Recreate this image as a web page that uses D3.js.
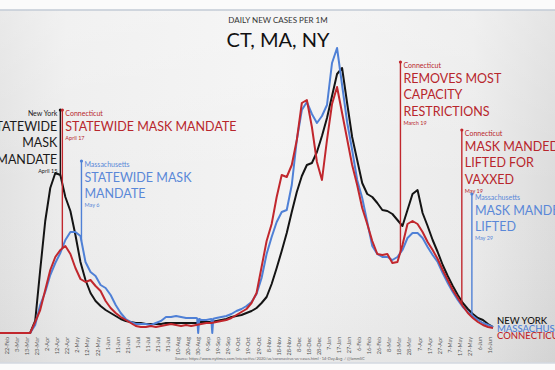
<!DOCTYPE html>
<html><head><meta charset="utf-8">
<script src="https://cdn.jsdelivr.net/npm/d3@7"></script>
<style>html,body{margin:0;padding:0;background:#fff;overflow:hidden}svg{display:block}</style>
</head><body><svg id="c" width="555" height="370"></svg>
<script>
// ---- data ----
const seriesStart = "2020-02-15";
const stepDays = 5;
const nyValues = [0,0,0,0,0,0,0,36,189,336,435,480,474,408,366,294,213,159,120,96,81,69,60,51,42,36,33,30,30,27,27,27,27,30,30,30,30,30,30,30,33,33,33,36,39,42,48,51,54,60,66,75,90,108,147,195,246,300,363,423,471,504,510,543,591,645,711,777,795,690,588,519,450,417,408,390,369,366,357,339,321,369,417,429,360,321,279,243,204,171,141,114,90,72,57,45,39,27,18];
const ctValues = [0,0,0,0,0,0,0,33,69,129,189,228,249,261,237,195,162,153,159,141,126,96,75,60,48,39,30,21,18,18,21,18,21,24,27,24,21,24,21,24,27,30,30,33,36,39,45,54,63,72,90,120,198,276,327,408,474,468,504,579,690,699,618,513,459,579,687,738,660,582,504,444,375,327,276,237,234,237,210,213,264,327,336,327,303,273,249,222,189,159,129,105,81,60,45,33,24,18,15];
const maValues = [0,0,0,0,0,0,0,24,84,123,174,210,240,279,303,303,291,213,183,171,144,135,114,84,60,42,33,27,27,27,24,30,36,48,48,51,48,45,45,45,39,39,42,45,48,51,57,66,72,81,93,117,165,237,288,333,363,369,444,579,669,693,657,630,651,684,810,855,744,633,549,459,405,333,261,237,228,228,219,228,249,285,300,300,285,258,234,213,180,150,123,99,78,63,51,39,30,24,18];
const maGaps = [["2020-08-29",44],["2020-08-30",0],["2020-08-31",42],["2020-09-13",0],["2020-09-14",43]];
const seriesNames = ["NEW YORK","MASSACHUSETTS","CONNECTICUT"];
const tickDates = ["2020-02-22","2020-03-03","2020-03-13","2020-03-23","2020-04-02","2020-04-12","2020-04-22","2020-05-02","2020-05-12","2020-05-22","2020-06-01","2020-06-11","2020-06-21","2020-07-01","2020-07-11","2020-07-21","2020-07-31","2020-08-10","2020-08-20","2020-08-30","2020-09-09","2020-09-19","2020-09-29","2020-10-09","2020-10-19","2020-10-29","2020-11-08","2020-11-18","2020-11-28","2020-12-08","2020-12-18","2020-12-28","2021-01-07","2021-01-17","2021-01-27","2021-02-06","2021-02-16","2021-02-26","2021-03-08","2021-03-18","2021-03-28","2021-04-07","2021-04-17","2021-04-27","2021-05-07","2021-05-17","2021-05-27","2021-06-06","2021-06-16"];
const annStates = ["New York","Connecticut","Massachusetts","Connecticut","Connecticut","Massachusetts"];
const annSeries = ["ny","ct","ma","ct","ct","ma"];
const annDates = ["2020-04-15","2020-04-17","2020-05-06","2021-03-19","2021-05-19","2021-05-29"];
const annText = [["STATEWIDE","MASK","MANDATE"],["STATEWIDE MASK MANDATE"],["STATEWIDE MASK","MANDATE"],["REMOVES MOST","CAPACITY","RESTRICTIONS"],["MASK MANDED","LIFTED FOR","VAXXED"],["MASK MANDED","LIFTED"]];
const annDateLabels = ["April 15","April 17","May 6","March 19","May 19","May 29"];

// ---- layout ----
const W = 555, H = 370;
const FONT = "Lato, 'Open Sans', sans-serif";
const colors = {ny:"#141414", ma:"#4f80d6", ct:"#c1272d"};
const textColors = {ny:"#1a1a1a", ma:"#5a88d8", ct:"#b8262c"};
const annTops = [110,110,161,62,130,194];
const annSide = ["left","right","right","right","right","right"];

const parse = d3.utcParse("%Y-%m-%d");
const start = parse(seriesStart);
const mk = vals => vals.map((v,i)=>({date:d3.utcDay.offset(start, i*stepDays), value:v}));
const series = {ny: mk(nyValues), ct: mk(ctValues), ma: mk(maValues)};
series.ma = series.ma.concat(maGaps.map(([d,v])=>({date:parse(d), value:v}))).sort((a,b)=>a.date-b.date);

const x = d3.scaleUtc().domain([parse("2020-02-22"), parse("2021-06-16")]).range([7, 490]);
const y = d3.scaleLinear().domain([0, 900]).range([333, 33]);

const svg = d3.select("#c");
const defs = svg.append("defs");
const g1 = defs.append("linearGradient").attr("id","bgH").attr("x1","0").attr("x2","1").attr("y1","0").attr("y2","0");
[[0,"#e2e2e2"],[0.12,"#ededed"],[0.5,"#f3f3f3"],[0.85,"#ebebeb"],[1,"#dcdcdc"]].forEach(([o,c])=>g1.append("stop").attr("offset",o).attr("stop-color",c));
const g2 = defs.append("linearGradient").attr("id","bgV").attr("x1","0").attr("x2","0").attr("y1","0").attr("y2","1");
[[0,"#ffffff",0.25],[0.5,"#ffffff",0],[1,"#000000",0.04]].forEach(([o,c,a])=>g2.append("stop").attr("offset",o).attr("stop-color",c).attr("stop-opacity",a));

svg.append("rect").attr("width",W).attr("height",H).attr("fill","#fbfbfb");
svg.append("rect").attr("x",0).attr("y",10).attr("width",W).attr("height",353).attr("fill","url(#bgH)");
svg.append("rect").attr("x",0).attr("y",10).attr("width",W).attr("height",353).attr("fill","url(#bgV)");
svg.append("line").attr("x1",0).attr("x2",W).attr("y1",10).attr("y2",10).attr("stroke","#c3cbd6").attr("stroke-width",1.5);
svg.append("line").attr("x1",0).attr("x2",W).attr("y1",363).attr("y2",363).attr("stroke","#d3d9e0").attr("stroke-width",1.5);

// titles
svg.append("text").attr("x",278).attr("y",23).attr("text-anchor","middle").attr("font-family",FONT).attr("font-size",8).attr("fill","#333").text("DAILY NEW CASES PER 1M");
svg.append("text").attr("x",278).attr("y",47).attr("text-anchor","middle").attr("font-family",FONT).attr("font-size",20).attr("fill","#111").text("CT, MA, NY");

// x tick labels
const fmt = d3.utcFormat("%-d-%b");
svg.append("g").selectAll("text").data(tickDates.map(parse)).join("text")
  .attr("transform", d=>`translate(${x(d)},337) rotate(-90)`)
  .attr("dy","0.35em").attr("text-anchor","end")
  .attr("font-family",FONT).attr("font-size",5.5).attr("fill","#555").text(fmt);

// source
svg.append("text").attr("x",175).attr("y",360).attr("font-family",FONT).attr("font-size",4).attr("fill","#666")
  .text("Source: https://www.nytimes.com/interactive/2020/us/coronavirus-us-cases.html · 14-Day Avg. / @lammSC");

// lines
const line = d3.line().x(d=>x(d.date)).y(d=>y(d.value));
["ny","ma","ct"].forEach(k=>{
  svg.append("path").datum(series[k]).attr("d",line).attr("fill","none")
    .attr("stroke",colors[k]).attr("stroke-width",2).attr("stroke-linejoin","round");
});

// annotations
function valueAt(arr, date){
  const i = d3.bisector(d=>d.date).left(arr, date);
  if(i<=0) return arr[0].value;
  if(i>=arr.length) return arr[arr.length-1].value;
  const a=arr[i-1], b=arr[i];
  const t=(date-a.date)/(b.date-a.date);
  return a.value + t*(b.value-a.value);
}
annDates.forEach((ds,i)=>{
  const k = annSeries[i], d = parse(ds), xx = x(d), top = annTops[i];
  const bottom = y(valueAt(series[k], d));
  const g = svg.append("g");
  g.append("line").attr("x1",xx).attr("x2",xx).attr("y1",top).attr("y2",bottom).attr("stroke",colors[k]).attr("stroke-width",1.4);
  g.append("circle").attr("cx",xx).attr("cy",top).attr("r",1.6).attr("fill",colors[k]);
  const left = annSide[i]==="left";
  const tx = left ? xx-3 : xx+3;
  const anchor = left ? "end" : "start";
  g.append("text").attr("x",tx).attr("y",top+6).attr("text-anchor",anchor).attr("font-family",FONT).attr("font-size",7).attr("fill",textColors[k]).text(annStates[i]);
  let by = top+21;
  annText[i].forEach((t,j)=>{
    g.append("text").attr("x",tx).attr("y",by+j*16.3).attr("text-anchor",anchor).attr("font-family",FONT).attr("font-size",12.5).attr("fill",textColors[k]).text(t);
  });
  const lastY = by+(annText[i].length-1)*16.3;
  g.append("text").attr("x",tx).attr("y",lastY+9).attr("text-anchor",anchor).attr("font-family",FONT).attr("font-size",5.5).attr("fill",textColors[k]).text(annDateLabels[i]);
});

// end labels
const endKeys = ["ny","ma","ct"];
seriesNames.forEach((n,i)=>{
  svg.append("text").attr("x",497).attr("y",324+i*7.6).attr("font-family",FONT).attr("font-size",9.5).attr("font-weight",500)
    .attr("fill",colors[endKeys[i]]).text(n);
});
</script></body></html>
